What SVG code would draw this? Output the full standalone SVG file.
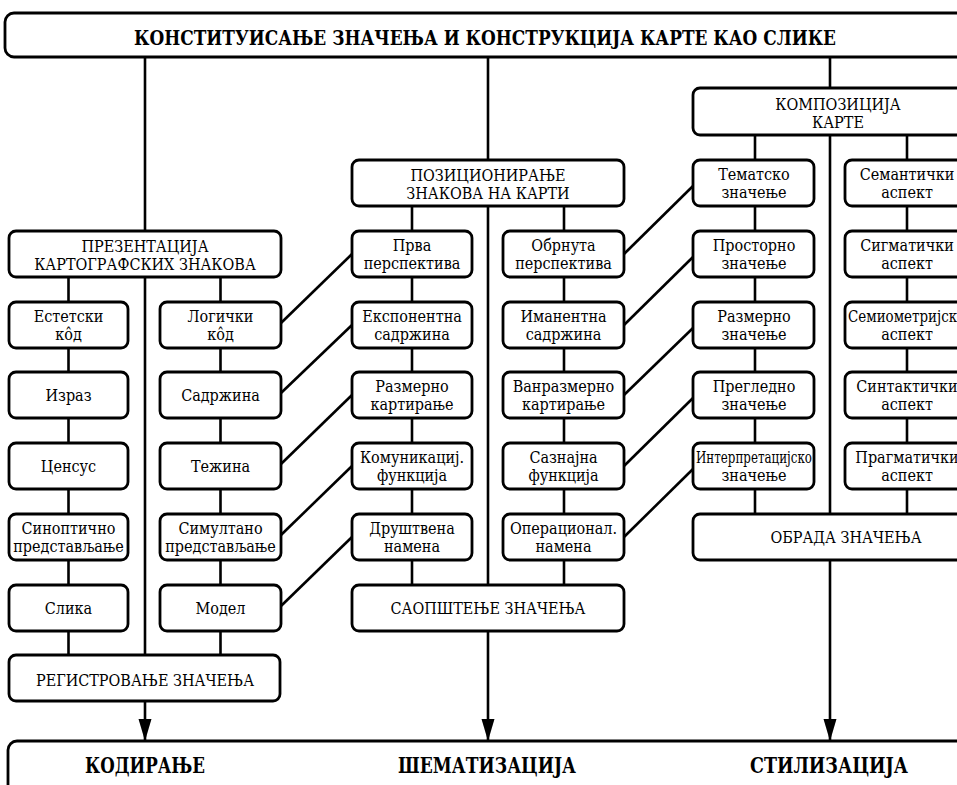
<svg xmlns="http://www.w3.org/2000/svg" width="957" height="785" viewBox="0 0 957 785">
<defs>
<style>
.b{fill:#fff;stroke:#000;stroke-width:2.8}
.c{fill:none;stroke:#000;stroke-width:2.6}
text{font-family:"DejaVu Serif Condensed","DejaVu Serif",serif;font-stretch:condensed;font-size:16px;fill:#000;text-anchor:middle}
.h{font-weight:bold;font-size:21px}
.f{font-weight:bold;font-size:22px}
</style>
<marker id="arr" markerUnits="userSpaceOnUse" markerWidth="23" markerHeight="14" refX="22" refY="7" orient="auto" viewBox="0 0 23 14">
<path d="M0,0.5 L22,7 L0,13.5 z" fill="#000"/>
</marker>
</defs>
<rect width="957" height="785" fill="#fff"/>
<g id="connectors">
<line class="c" x1="145" y1="57" x2="145" y2="741" marker-end="url(#arr)"/>
<line class="c" x1="488" y1="57" x2="488" y2="741" marker-end="url(#arr)"/>
<line class="c" x1="830" y1="57" x2="830" y2="741" marker-end="url(#arr)"/>
<line class="c" x1="68.5" y1="277" x2="68.5" y2="655"/>
<line class="c" x1="220.5" y1="277" x2="220.5" y2="655"/>
<line class="c" x1="412" y1="206" x2="412" y2="585"/>
<line class="c" x1="564" y1="206" x2="564" y2="585"/>
<line class="c" x1="755" y1="135" x2="755" y2="514"/>
<line class="c" x1="907" y1="135" x2="907" y2="514"/>
<line class="c" x1="281" y1="323" x2="352" y2="254"/>
<line class="c" x1="281" y1="393" x2="352" y2="325"/>
<line class="c" x1="281" y1="464" x2="352" y2="395"/>
<line class="c" x1="281" y1="535" x2="352" y2="466"/>
<line class="c" x1="281" y1="606" x2="352" y2="537"/>
<line class="c" x1="624" y1="254" x2="693" y2="186"/>
<line class="c" x1="624" y1="325" x2="693" y2="257"/>
<line class="c" x1="624" y1="395" x2="693" y2="328"/>
<line class="c" x1="624" y1="466" x2="693" y2="398"/>
<line class="c" x1="624" y1="537" x2="693" y2="469"/>
</g>
<g id="title"><rect class="b" x="5" y="13" width="975" height="44" rx="9"/><text class="h" x="485" y="44.5" textLength="702" lengthAdjust="spacingAndGlyphs">КОНСТИТУИСАЊЕ ЗНАЧЕЊА И КОНСТРУКЦИЈА КАРТЕ КАО СЛИКЕ</text></g>
<g id="bottom"><rect class="b" x="8" y="741" width="975" height="60" rx="9"/>
<text class="f" x="145" y="773" textLength="120" lengthAdjust="spacingAndGlyphs">КОДИРАЊЕ</text>
<text class="f" x="487" y="773" textLength="178" lengthAdjust="spacingAndGlyphs">ШЕМАТИЗАЦИЈА</text>
<text class="f" x="829" y="773" textLength="158" lengthAdjust="spacingAndGlyphs">СТИЛИЗАЦИЈА</text></g>

<g id="prezentacija"><rect class="b" x="9" y="231" width="272" height="46" rx="7"/><text x="145" y="252">ПРЕЗЕНТАЦИЈА</text><text x="145" y="270">КАРТОГРАФСКИХ ЗНАКОВА</text></g>
<g id="registrovanje"><rect class="b" x="9" y="655" width="271" height="46" rx="7"/><text x="145" y="686">РЕГИСТРОВАЊЕ ЗНАЧЕЊА</text></g>
<g id="pozicioniranje"><rect class="b" x="352" y="160" width="272" height="46" rx="7"/><text x="488" y="181">ПОЗИЦИОНИРАЊЕ</text><text x="488" y="199">ЗНАКОВА НА КАРТИ</text></g>
<g id="saopstenje"><rect class="b" x="352" y="585" width="272" height="46" rx="7"/><text x="488" y="614">САОПШТЕЊЕ ЗНАЧЕЊА</text></g>
<g id="kompozicija"><rect class="b" x="693" y="88" width="292" height="47" rx="7"/><text x="838" y="110">КОМПОЗИЦИЈА</text><text x="838" y="128">КАРТЕ</text></g>
<g id="obrada"><rect class="b" x="693" y="514" width="306" height="46" rx="7"/><text x="846" y="543">ОБРАДА ЗНАЧЕЊА</text></g>

<g id="estetski"><rect class="b" x="9" y="302" width="119" height="46" rx="7"/><text x="68.5" y="322">Естетски</text><text x="68.5" y="340">кôд</text></g>
<g id="izraz"><rect class="b" x="9" y="372" width="119" height="46" rx="7"/><text x="68.5" y="401">Израз</text></g>
<g id="cenzus"><rect class="b" x="9" y="443" width="119" height="46" rx="7"/><text x="68.5" y="472">Ценсус</text></g>
<g id="sinopticno"><rect class="b" x="9" y="514" width="119" height="46" rx="7"/><text x="68.5" y="534">Синоптично</text><text x="68.5" y="552">представљање</text></g>
<g id="slika"><rect class="b" x="9" y="585" width="119" height="46" rx="7"/><text x="68.5" y="614">Слика</text></g>

<g id="logicki"><rect class="b" x="160" y="302" width="121" height="46" rx="7"/><text x="220.5" y="322">Логички</text><text x="220.5" y="340">кôд</text></g>
<g id="sadrzina"><rect class="b" x="160" y="372" width="121" height="46" rx="7"/><text x="220.5" y="401">Садржина</text></g>
<g id="tezina"><rect class="b" x="160" y="443" width="121" height="46" rx="7"/><text x="220.5" y="472">Тежина</text></g>
<g id="simultano"><rect class="b" x="160" y="514" width="121" height="46" rx="7"/><text x="220.5" y="534">Симултано</text><text x="220.5" y="552">представљање</text></g>
<g id="model"><rect class="b" x="160" y="585" width="121" height="46" rx="7"/><text x="220.5" y="614">Модел</text></g>

<g id="prva"><rect class="b" x="352" y="231" width="120" height="46" rx="7"/><text x="412" y="251">Прва</text><text x="412" y="269">перспектива</text></g>
<g id="eksponentna"><rect class="b" x="352" y="302" width="120" height="46" rx="7"/><text x="412" y="322">Експонентна</text><text x="412" y="340">садржина</text></g>
<g id="razmerno-k"><rect class="b" x="352" y="372" width="120" height="46" rx="7"/><text x="412" y="392">Размерно</text><text x="412" y="410">картирање</text></g>
<g id="komunikacij"><rect class="b" x="352" y="443" width="120" height="46" rx="7"/><text x="412" y="463">Комуникациј.</text><text x="412" y="481">функција</text></g>
<g id="drustvena"><rect class="b" x="352" y="514" width="120" height="46" rx="7"/><text x="412" y="534">Друштвена</text><text x="412" y="552">намена</text></g>

<g id="obrnuta"><rect class="b" x="503" y="231" width="121" height="46" rx="7"/><text x="563.5" y="251">Обрнута</text><text x="563.5" y="269">перспектива</text></g>
<g id="imanentna"><rect class="b" x="503" y="302" width="121" height="46" rx="7"/><text x="563.5" y="322">Иманентна</text><text x="563.5" y="340">садржина</text></g>
<g id="vanrazmerno"><rect class="b" x="503" y="372" width="121" height="46" rx="7"/><text x="563.5" y="392">Ванразмерно</text><text x="563.5" y="410">картирање</text></g>
<g id="saznajna"><rect class="b" x="503" y="443" width="121" height="46" rx="7"/><text x="563.5" y="463">Сазнајна</text><text x="563.5" y="481">функција</text></g>
<g id="operacional"><rect class="b" x="503" y="514" width="121" height="46" rx="7"/><text x="563.5" y="534">Операционал.</text><text x="563.5" y="552">намена</text></g>

<g id="tematsko"><rect class="b" x="693" y="160" width="121" height="46" rx="7"/><text x="754" y="180">Тематско</text><text x="754" y="198">значење</text></g>
<g id="prostorno"><rect class="b" x="693" y="231" width="121" height="46" rx="7"/><text x="754" y="251">Просторно</text><text x="754" y="269">значење</text></g>
<g id="razmerno-z"><rect class="b" x="693" y="302" width="121" height="46" rx="7"/><text x="754" y="322">Размерно</text><text x="754" y="340">значење</text></g>
<g id="pregledno"><rect class="b" x="693" y="372" width="121" height="46" rx="7"/><text x="754" y="392">Прегледно</text><text x="754" y="410">значење</text></g>
<g id="interpretacijsko"><rect class="b" x="693" y="443" width="121" height="46" rx="7"/><text x="754" y="463" textLength="116" lengthAdjust="spacingAndGlyphs">Интерпретацијско</text><text x="754" y="481">значење</text></g>

<g id="semanticki"><rect class="b" x="845" y="160" width="124" height="46" rx="7"/><text x="907" y="180">Семантички</text><text x="907" y="198">аспект</text></g>
<g id="sigmaticki"><rect class="b" x="845" y="231" width="124" height="46" rx="7"/><text x="907" y="251">Сигматички</text><text x="907" y="269">аспект</text></g>
<g id="semiometrijski"><rect class="b" x="845" y="302" width="124" height="46" rx="7"/><text x="907" y="322" textLength="118" lengthAdjust="spacingAndGlyphs">Семиометријски</text><text x="907" y="340">аспект</text></g>
<g id="sintakticki"><rect class="b" x="845" y="372" width="124" height="46" rx="7"/><text x="907" y="392">Синтактички</text><text x="907" y="410">аспект</text></g>
<g id="pragmaticki"><rect class="b" x="845" y="443" width="124" height="46" rx="7"/><text x="907" y="463">Прагматички</text><text x="907" y="481">аспект</text></g>
</svg>
